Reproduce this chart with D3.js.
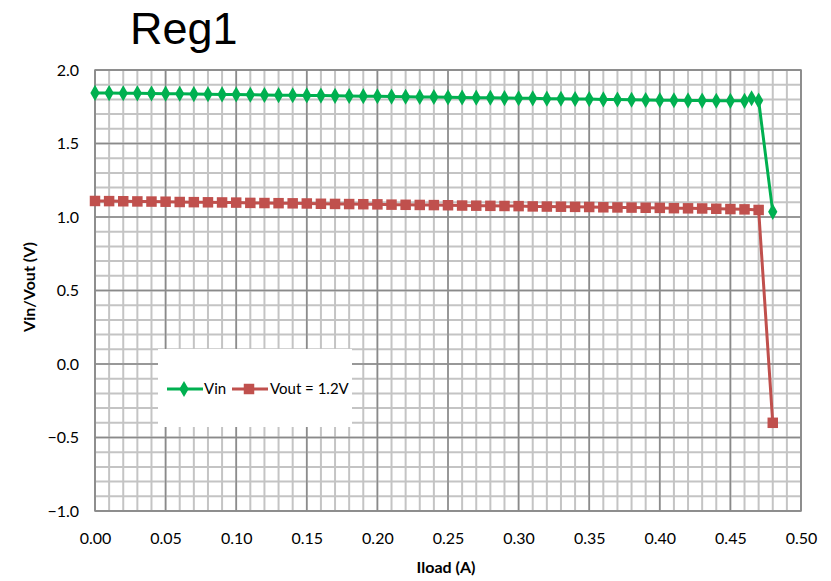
<!DOCTYPE html>
<html>
<head>
<meta charset="utf-8">
<script src="https://cdn.jsdelivr.net/npm/d3@7"></script>
<style>
  body { margin: 0; background: #fff; }
  svg text { font-family: Lato, "Open Sans", sans-serif; }
</style>
</head>
<body>
<div id="chart"></div>
<script>
// load current in A
const iload = [0.00,0.01,0.02,0.03,0.04,0.05,0.06,0.07,0.08,0.09,
  0.10,0.11,0.12,0.13,0.14,0.15,0.16,0.17,0.18,0.19,
  0.20,0.21,0.22,0.23,0.24,0.25,0.26,0.27,0.28,0.29,
  0.30,0.31,0.32,0.33,0.34,0.35,0.36,0.37,0.38,0.39,
  0.40,0.41,0.42,0.43,0.44,0.45,0.46,0.465,0.47,0.48];
const vin = [1.844,1.843,1.842,1.841,1.840,1.839,1.838,1.836,1.835,1.834,
  1.833,1.832,1.830,1.829,1.828,1.827,1.826,1.824,1.823,1.822,
  1.821,1.819,1.818,1.817,1.816,1.814,1.813,1.812,1.811,1.809,
  1.808,1.807,1.805,1.804,1.803,1.802,1.800,1.799,1.798,1.796,
  1.795,1.794,1.793,1.792,1.791,1.790,1.790,1.808,1.792,1.035];
const vout = [1.109,1.108,1.107,1.106,1.105,1.104,1.102,1.101,1.100,1.099,
  1.098,1.096,1.095,1.094,1.093,1.092,1.090,1.089,1.088,1.087,
  1.086,1.084,1.083,1.082,1.081,1.080,1.078,1.077,1.076,1.075,
  1.074,1.072,1.071,1.070,1.069,1.068,1.066,1.065,1.064,1.063,
  1.062,1.060,1.059,1.058,1.056,1.054,1.052,null,1.048,-0.40];
const xTicks = [0,0.05,0.10,0.15,0.20,0.25,0.30,0.35,0.40,0.45,0.50];
const yTicks = [-1.0,-0.5,0.0,0.5,1.0,1.5,2.0];

const W = 831, H = 581;
const margin = {top: 70, right: 30, bottom: 70, left: 95};
const width = 801 - margin.left, height = 511 - margin.top;

const svg = d3.select("#chart").append("svg")
  .attr("width", W).attr("height", H);

svg.append("text")
  .attr("x", 130).attr("y", 44)
  .style("font-family", "'Liberation Sans', Arial, sans-serif")
  .style("font-size", "45px")
  .text("Reg1");

const g = svg.append("g")
  .attr("transform", "translate(" + margin.left + "," + margin.top + ")");

const x = d3.scaleLinear().domain([0, 0.5]).range([0, width]);
const y = d3.scaleLinear().domain([-1, 2]).range([height, 0]);

// minor grid
const xMinor = d3.range(0, 51).map(d => d / 100);
const yMinor = d3.range(-10, 21).map(d => d / 10);
g.append("g").selectAll("line").data(xMinor).enter().append("line")
  .attr("x1", d => x(d)).attr("x2", d => x(d))
  .attr("y1", 0).attr("y2", height)
  .attr("stroke", "#c4c4c4").attr("stroke-width", 2);
g.append("g").selectAll("line").data(yMinor).enter().append("line")
  .attr("x1", 0).attr("x2", width)
  .attr("y1", d => y(d)).attr("y2", d => y(d))
  .attr("stroke", "#c4c4c4").attr("stroke-width", 2);

// major grid
g.append("g").selectAll("line").data(xTicks).enter().append("line")
  .attr("x1", d => x(d)).attr("x2", d => x(d))
  .attr("y1", 0).attr("y2", height)
  .attr("stroke", "#8a8a8a").attr("stroke-width", 1.5);
g.append("g").selectAll("line").data(yTicks).enter().append("line")
  .attr("x1", 0).attr("x2", width)
  .attr("y1", d => y(d)).attr("y2", d => y(d))
  .attr("stroke", "#8a8a8a").attr("stroke-width", 1.5);

g.append("rect")
  .attr("width", width).attr("height", height)
  .attr("fill", "none").attr("stroke", "#8a8a8a").attr("stroke-width", 1.5);

// axes
const xAxis = g.append("g")
  .attr("transform", "translate(0," + height + ")")
  .call(d3.axisBottom(x).tickValues(xTicks).tickFormat(d3.format(".2f")).tickSize(0).tickPadding(22));
const yAxis = g.append("g")
  .call(d3.axisLeft(y).tickValues(yTicks).tickFormat(d3.format(".1f")).tickSize(0).tickPadding(16));
[xAxis, yAxis].forEach(a => {
  a.select(".domain").remove();
  a.selectAll("text").style("font-family", "Lato, sans-serif").style("font-size", "16px").attr("fill", "#000");
});

svg.append("text")
  .attr("x", 446).attr("y", 573)
  .attr("text-anchor", "middle")
  .style("font-size", "16px").style("font-weight", "bold")
  .text("Iload (A)");
svg.append("text")
  .attr("transform", "translate(35,287) rotate(-90)")
  .attr("text-anchor", "middle")
  .style("font-size", "16px").style("font-weight", "bold")
  .text("Vin/Vout (V)");

// series
const series = [
  {name: "Vin", values: vin, color: "#00b050", marker: d3.symbolDiamond, size: 75},
  {name: "Vout = 1.2V", values: vout, color: "#c0504d", marker: d3.symbolSquare, size: 110}
];

series.forEach(s => {
  const pts = iload.map((d, i) => ({x: d, y: s.values[i]})).filter(p => p.y !== null);
  g.append("path").datum(pts)
    .attr("fill", "none").attr("stroke", s.color).attr("stroke-width", 3)
    .attr("d", d3.line().x(d => x(d.x)).y(d => y(d.y)));
  g.append("g").selectAll("path").data(pts).enter().append("path")
    .attr("transform", d => "translate(" + x(d.x) + "," + y(d.y) + ")")
    .attr("d", d3.symbol().type(s.marker).size(s.size))
    .attr("fill", s.color);
});

// legend
const lg = svg.append("g").attr("transform", "translate(158,349)");
lg.append("rect").attr("width", 194).attr("height", 78).attr("fill", "#fff");
const items = [
  {s: series[0], x0: 9, tx: 46},
  {s: series[1], x0: 74, tx: 112}
];
items.forEach(it => {
  lg.append("line").attr("x1", it.x0).attr("x2", it.x0 + 36)
    .attr("y1", 40).attr("y2", 40)
    .attr("stroke", it.s.color).attr("stroke-width", 3);
  lg.append("path").attr("transform", "translate(" + (it.x0 + 17) + ",40)")
    .attr("d", d3.symbol().type(it.s.marker).size(it.s.size)).attr("fill", it.s.color);
  lg.append("text").attr("x", it.tx).attr("y", 45)
    .style("font-size", "15px").text(it.s.name);
});
</script>
</body>
</html>
